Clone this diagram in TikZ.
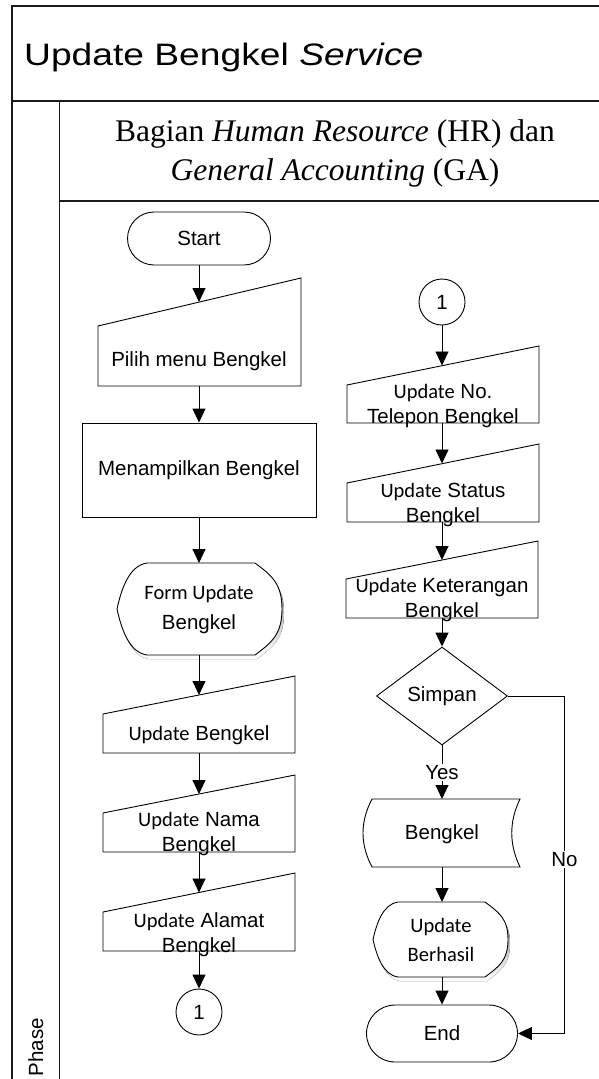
\documentclass[tikz,border=0pt]{standalone}
\usepackage{fontspec}
\setmainfont{Liberation Serif}
\newfontfamily\arialfont{Liberation Sans}
\newfontfamily\calfont{Carlito}
\usetikzlibrary{arrows.meta,shapes.geometric}

\definecolor{lanecol}{HTML}{1A1A1A}
\definecolor{shade}{RGB}{200,218,240}

\tikzset{
  lanerule/.style={line width=1.6pt,draw=lanecol},
  outline/.style={draw=black,line width=0.9pt,fill=white},
  flow/.style={draw=black,line width=0.9pt,-{Triangle[length=14pt,width=13pt]}},
  plain/.style={font=\arialfont\fontsize{20.5}{25}\selectfont,align=center,inner sep=0pt},
  term/.style={outline,plain,rectangle},
  conn/.style={outline,plain,circle,minimum size=46pt},
  proc/.style={outline,plain,rectangle},
  decide/.style={outline,plain,diamond,minimum width=131pt,minimum height=98pt},
  tag/.style={plain,fill=white,inner sep=1.5pt},
}

% Calibri-like words inside Arial labels
\newcommand{\cb}[1]{{\calfont #1}}

% display symbol: #1 left, #2 right, #3 top, #4 bottom, #5 left inset, #6 right inset
\newcommand{\dispoutline}[6]{%
  ({#1+#5},#3) -- ({#2-#6},#3)
  .. controls ({#2-0.4*#6},{#3+0.45*#6}) and (#2,{#3+0.22*(#4-#3)}) .. (#2,{(#3+#4)/2})
  .. controls (#2,{#4-0.22*(#4-#3)}) and ({#2-0.4*#6},{#4-0.45*#6}) .. ({#2-#6},#4)
  -- ({#1+#5},#4)
  .. controls ({#1+0.4*#5},{#4-0.03*(#4-#3)}) and ({#1+0.15*#5},{#4-0.28*(#4-#3)}) .. (#1,{(#3+#4)/2})
  .. controls ({#1+0.15*#5},{#3+0.28*(#4-#3)}) and ({#1+0.4*#5},{#3+0.03*(#4-#3)}) .. ({#1+#5},#3) -- cycle}

\begin{document}
\begin{tikzpicture}[x=1pt,y=-1pt]
\useasboundingbox (0,0) rectangle (598,1079);

% ---------- swimlane frame ----------
\draw[lanerule] (11.7,1090) -- (11.7,6) -- (610,6);
\draw[lanerule] (11.7,100.7) -- (610,100.7);
\draw[lanerule] (59.3,100.7) -- (59.3,1090);
\draw[lanerule] (59.3,201) -- (610,201);

\node[anchor=base west,inner sep=0pt,font=\arialfont\fontsize{31}{37}\selectfont] (title) at (24,65)
  {\scalebox{1.2}[1]{Update Bengkel \textit{Service}}};
% base of a multi-line node is the baseline of its last line
\node[anchor=base,align=center,inner sep=0pt,font=\fontsize{31.5}{38.3}\selectfont] (lane) at (335,180)
  {Bagian \textit{Human Resource} (HR) dan\\\textit{General Accounting} (GA)};
\node[plain,rotate=90,anchor=base] (phase) at (43,1047) {Phase};

% ---------- left column ----------
\node[term,minimum width=143pt,minimum height=53pt,rounded corners=26.5pt] (start) at (199,238.5) {Start};

\draw[outline] (98,326) -- (301,278) -- (301,386) -- (98,386) -- cycle;
\node[plain] (pilih) at (199,361) {Pilih menu Bengkel};
\coordinate (pilih-t) at (199,302);
\coordinate (pilih-b) at (199,386);

\node[proc,minimum width=234pt,minimum height=94pt] (tampil) at (199,470) {Menampilkan Bengkel};

\fill[shade,shift={(2,4)}] \dispoutline{117}{282}{563}{655}{30}{27};
\draw[outline] \dispoutline{117}{282}{563}{655}{30}{27};
\node[plain] (form) at (199,610) {\cb{Form Update}\\[5pt]Bengkel};
\coordinate (form-t) at (199,563);
\coordinate (form-b) at (199,655);

\draw[outline] (103,714) -- (295,676) -- (295,753) -- (103,753) -- cycle;
\node[plain] (upd) at (199,735) {\cb{Update} Bengkel};
\coordinate (upd-t) at (199,695);
\coordinate (upd-b) at (199,753);

\draw[outline] (103,813) -- (295,775) -- (295,852) -- (103,852) -- cycle;
\node[plain] (nama) at (199,834) {\cb{Update} Nama\\Bengkel};
\coordinate (nama-t) at (199,794);
\coordinate (nama-b) at (199,852);

\draw[outline] (103,912) -- (295,873) -- (295,951) -- (103,951) -- cycle;
\node[plain] (alamat) at (199,934.5) {\cb{Update} Alamat\\Bengkel};
\coordinate (alamat-t) at (199,892.5);
\coordinate (alamat-b) at (199,951);

\node[conn] (c1a) at (199,1012) {1};

% ---------- right column ----------
\node[conn] (c1b) at (442,302) {1};

\draw[outline] (347,385) -- (539,346) -- (539,423) -- (347,423) -- cycle;
\node[plain] (telp) at (443,406.5) {\cb{Update} No.\\Telepon Bengkel};
\coordinate (telp-t) at (442,365.5);
\coordinate (telp-b) at (442,423);

\draw[outline] (347,483) -- (539,444) -- (539,522) -- (347,522) -- cycle;
\node[plain] (status) at (443,504.5) {\cb{Update} Status\\Bengkel};
\coordinate (status-t) at (442,463.5);
\coordinate (status-b) at (442,522);

\draw[outline] (346,579) -- (538,541) -- (538,618) -- (346,618) -- cycle;
\node[plain] (ket) at (442,600) {\cb{Update} Keterangan\\Bengkel};
\coordinate (ket-t) at (442,560);
\coordinate (ket-b) at (442,618);

\node[decide] (simpan) at (442,696) {Simpan};

\draw[outline] (372,799) -- (520,799) .. controls (509,822) and (509,844) .. (520,867)
  -- (372,867) .. controls (360,844) and (360,822) .. (372,799) -- cycle;
\node[plain] (db) at (442,834) {Bengkel};
\coordinate (db-t) at (442,799);
\coordinate (db-b) at (442,867);

\fill[shade,shift={(2,4)}] \dispoutline{373}{508}{902}{977}{25}{23};
\draw[outline] \dispoutline{373}{508}{902}{977}{25}{23};
\node[plain] (hasil) at (441,940) {\cb{Update}\\[4pt]\cb{Berhasil}};
\coordinate (hasil-t) at (442,902);
\coordinate (hasil-b) at (442,977);

\node[term,minimum width=151pt,minimum height=57pt,rounded corners=28.5pt] (end) at (442,1033.5) {End};

\coordinate (no-turn) at (564.5,696);

% ---------- connectors ----------
\draw[flow] (start) -- (pilih-t);
\draw[flow] (pilih-b) -- (tampil);
\draw[flow] (tampil) -- (form-t);
\draw[flow] (form-b) -- (upd-t);
\draw[flow] (upd-b) -- (nama-t);
\draw[flow] (nama-b) -- (alamat-t);
\draw[flow] (alamat-b) -- (c1a);

\draw[flow] (c1b) -- (telp-t);
\draw[flow] (telp-b) -- (status-t);
\draw[flow] (status-b) -- (ket-t);
\draw[flow] (ket-b) -- (simpan);
\draw[flow] (simpan) -- node[tag] {Yes} (db-t);
\draw[flow] (db-b) -- (hasil-t);
\draw[flow] (hasil-b) -- (end);
\draw[flow] (simpan.east) -- (no-turn) -- node[tag,pos=0.485] {No} (no-turn |- end.east) -- (end.east);
\end{tikzpicture}
\end{document}
